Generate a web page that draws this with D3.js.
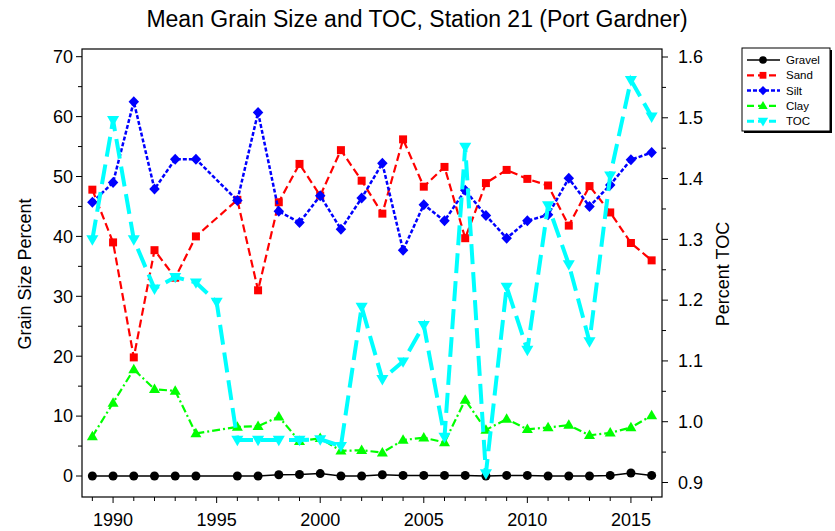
<!doctype html>
<html lang="en">
<head>
<meta charset="UTF-8">
<title>Station 21</title>
<script src="https://cdn.jsdelivr.net/npm/d3@7"></script>
<style>
  body { margin: 0; background: #fff; }
  svg text { font-family: "Liberation Sans", Arial, sans-serif; fill: #000; }
</style>
</head>
<body>
<svg id="chart" width="835" height="531"></svg>
<script>
// data (1995 has only TOC)
var years  = d3.range(1989, 2017);
var gravel = [0, 0, 0, 0, 0, 0, null, 0, 0, 0.2, 0.25, 0.4, 0, 0, 0.2, 0.1, 0.1, 0.1, 0.1, 0, 0.1, 0.1, 0, 0, 0, 0.1, 0.5, 0.1];
var sand   = [47.8, 39.0, 19.8, 37.7, 33.1, 40.0, null, 46.1, 31.0, 45.7, 52.1, 46.8, 54.4, 49.3, 43.8, 56.2, 48.3, 51.6, 39.7, 48.9, 51.1, 49.6, 48.5, 41.8, 48.4, 44.0, 38.9, 36.0];
var silt   = [45.7, 49.0, 62.5, 47.9, 52.9, 52.9, null, 46.0, 60.7, 44.2, 42.3, 46.8, 41.2, 46.4, 52.2, 37.7, 45.3, 42.6, 47.7, 43.5, 39.7, 42.6, 43.6, 49.7, 45.0, 48.6, 52.8, 54.0];
var clay   = [6.6, 12.2, 17.8, 14.5, 14.2, 7.1, null, 8.2, 8.3, 9.9, 5.8, 6.3, 4.2, 4.3, 3.9, 6.0, 6.4, 5.6, 12.7, 7.7, 9.5, 7.8, 8.1, 8.5, 6.8, 7.2, 8.1, 10.1];
var toc    = [1.300, 1.496, 1.300, 1.219, 1.238, 1.229, 1.197, 0.970, 0.970, 0.970, 0.970, 0.971, 0.960, 1.189, 1.070, 1.099, 1.159, 0.975, 1.452, 0.915, 1.222, 1.118, 1.356, 1.259, 1.132, 1.405, 1.562, 1.502];

var leftTicks  = d3.range(0, 71, 10);
var rightTicks = [0.9, 1.0, 1.1, 1.2, 1.3, 1.4, 1.5, 1.6];
var yearTicks  = [1990, 1995, 2000, 2005, 2010, 2015];

var svg = d3.select('#chart');

var frame = { left: 82, right: 662, top: 49, bottom: 497 };

var x  = d3.scaleLinear().domain([1988.5, 2016.5]).range([frame.left, frame.right]);
var yL = d3.scaleLinear().domain([0, 70]).range([476, 56.7]);
var yR = d3.scaleLinear().domain([0.9, 1.6]).range([482.5, 57]);

// marker shapes
function marker(type, s) {
    var h = s / 2;
    if (type == 'circle') return d3.symbol(d3.symbolCircle, Math.PI * h * h)();
    if (type == 'square') return 'M' + (-h) + ',' + (-h) + 'H' + h + 'V' + h + 'H' + (-h) + 'Z';
    if (type == 'diamond') return 'M0,' + (-h * 1.1) + 'L' + (h * 1.05) + ',0L0,' + (h * 1.1) + 'L' + (-h * 1.05) + ',0Z';
    if (type == 'up') return 'M0,' + (-h * 1.15) + 'L' + (h * 1.1) + ',' + (h * 0.75) + 'L' + (-h * 1.1) + ',' + (h * 0.75) + 'Z';
    if (type == 'down') return 'M0,' + (h * 1.15) + 'L' + (h * 1.1) + ',' + (-h * 0.75) + 'L' + (-h * 1.1) + ',' + (-h * 0.75) + 'Z';
}

var series = [
    { name: 'Gravel', values: gravel, y: yL, color: '#000000', width: 1.5, dash: null,          shape: 'circle',  size: 9 },
    { name: 'Sand',   values: sand,   y: yL, color: '#ff0000', width: 2.2, dash: '8,4',          shape: 'square',  size: 8 },
    { name: 'Silt',   values: silt,   y: yL, color: '#0000ff', width: 2.5, dash: '4,2',          shape: 'diamond', size: 10 },
    { name: 'Clay',   values: clay,   y: yL, color: '#00ff00', width: 2.2, dash: '8,3,2,3',      shape: 'up',      size: 10 },
    { name: 'TOC',    values: toc,    y: yR, color: '#00ffff', width: 4,   dash: '20,8',         shape: 'down',    size: 11 }
];

// frame
svg.append('rect')
    .attr('x', frame.left).attr('y', frame.top)
    .attr('width', frame.right - frame.left).attr('height', frame.bottom - frame.top)
    .attr('fill', 'none').attr('stroke', '#000').attr('stroke-width', 1.2);

// left axis ticks
var gl = svg.append('g');
d3.range(0, 71, 5).forEach(function(v) {
    gl.append('line').attr('x1', frame.left).attr('x2', frame.left - (v % 10 == 0 ? 6 : 4))
        .attr('y1', yL(v)).attr('y2', yL(v)).attr('stroke', '#000');
});
gl.selectAll('text').data(leftTicks).enter().append('text')
    .attr('x', 73).attr('y', function(d) { return yL(d); })
    .attr('dy', '0.35em').attr('text-anchor', 'end').attr('font-size', 18)
    .text(function(d) { return d; });

// right axis ticks
var gr = svg.append('g');
d3.range(0, 15).forEach(function(i) {
    var v = 0.9 + i * 0.05;
    gr.append('line').attr('x1', frame.right).attr('x2', frame.right + (i % 2 == 0 ? 6 : 4))
        .attr('y1', yR(v)).attr('y2', yR(v)).attr('stroke', '#000');
});
gr.selectAll('text').data(rightTicks).enter().append('text')
    .attr('x', 678).attr('y', function(d) { return yR(d); })
    .attr('dy', '0.35em').attr('font-size', 18)
    .text(function(d) { return d3.format('.1f')(d); });

// bottom axis ticks
var gb = svg.append('g');
years.forEach(function(yr) {
    gb.append('line').attr('x1', x(yr)).attr('x2', x(yr))
        .attr('y1', frame.bottom).attr('y2', frame.bottom + (yr % 5 == 0 ? 6 : 4)).attr('stroke', '#000');
});
gb.selectAll('text').data(yearTicks).enter().append('text')
    .attr('x', function(d) { return x(d); }).attr('y', 526)
    .attr('text-anchor', 'middle').attr('font-size', 18)
    .text(function(d) { return d; });

// titles
svg.append('text').attr('x', 417).attr('y', 27).attr('text-anchor', 'middle')
    .attr('font-size', 23).text('Mean Grain Size and TOC, Station 21 (Port Gardner)');
svg.append('text').attr('transform', 'translate(31,274) rotate(-90)')
    .attr('text-anchor', 'middle').attr('font-size', 18).text('Grain Size Percent');
svg.append('text').attr('transform', 'translate(729,274) rotate(-90)')
    .attr('text-anchor', 'middle').attr('font-size', 18).text('Percent TOC');

// series
series.forEach(function(s) {
    var pts = [];
    years.forEach(function(yr, i) {
        if (s.values[i] != null) pts.push({ x: yr, v: s.values[i] });
    });
    var line = d3.line()
        .x(function(d) { return x(d.x); })
        .y(function(d) { return s.y(d.v); });
    var g = svg.append('g');
    g.append('path')
        .attr('d', line(pts))
        .attr('fill', 'none')
        .attr('stroke', s.color)
        .attr('stroke-width', s.width)
        .attr('stroke-dasharray', s.dash);
    g.selectAll('path.m').data(pts).enter().append('path')
        .attr('class', 'm')
        .attr('transform', function(d) { return 'translate(' + x(d.x) + ',' + s.y(d.v) + ')'; })
        .attr('d', marker(s.shape, s.size))
        .attr('fill', s.color);
});

// legend
var lg = svg.append('g');
lg.append('rect').attr('x', 744).attr('y', 50).attr('width', 88).attr('height', 83).attr('fill', '#000');
lg.append('rect').attr('x', 742).attr('y', 48).attr('width', 88).attr('height', 83)
    .attr('fill', '#fff').attr('stroke', '#000').attr('stroke-width', 1);
series.forEach(function(s, i) {
    var yy = 60 + i * 15.3;
    lg.append('line').attr('x1', 747).attr('x2', 780).attr('y1', yy).attr('y2', yy)
        .attr('stroke', s.color).attr('stroke-width', Math.min(s.width, 3))
        .attr('stroke-dasharray', s.dash ? (s.name == 'Silt' ? '4,2' : '7,4') : null);
    lg.append('path').attr('transform', 'translate(763,' + yy + ')')
        .attr('d', marker(s.shape, s.size * 0.85)).attr('fill', s.color);
    lg.append('text').attr('x', 786).attr('y', yy).attr('dy', '0.35em')
        .attr('font-size', 11.5).text(s.name);
});
</script>
</body>
</html>
